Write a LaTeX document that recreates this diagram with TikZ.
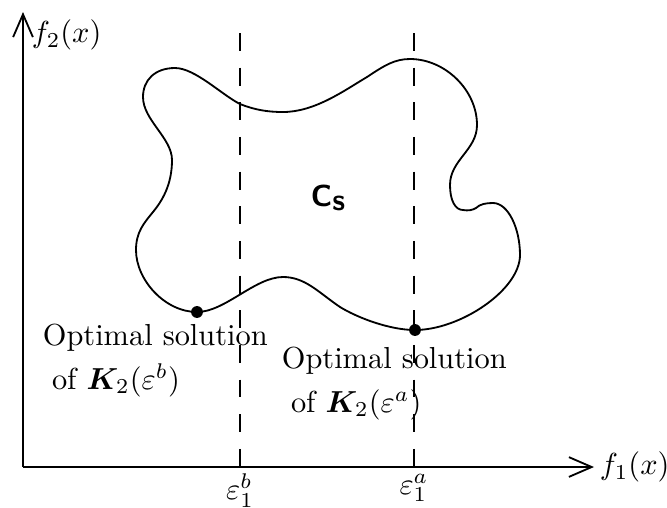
\documentclass[tikz,border=0pt]{standalone}
\usepackage{amsmath,bm}
\usetikzlibrary{arrows.meta}

\begin{document}
\begin{tikzpicture}[x=0.329pt, y=-0.329pt, line width=0.6pt,
  axis/.style={-{Straight Barb[length=7.5pt,width=6.5pt]}},
  level/.style={dash pattern=on 5.9pt off 5.5pt},
  soldot/.style={circle, fill, inner sep=0pt, minimum size=3.9pt},
  lab/.style={inner sep=0pt, align=left}]
  \useasboundingbox (0,0) rectangle (667,507);
  % 坐标轴
  \coordinate (O) at (23,467);
  \coordinate (Y) at (23,12);
  \coordinate (X) at (594,467);
  \draw[axis] (O)--(Y);
  \draw[axis] (O)--(X);
  \node[anchor=west, inner sep=0pt] (f2) at (31,35) {$f_2(x)$};
  \node[anchor=west, inner sep=0pt] (f1) at (599,467) {$f_1(x)$};
  % epsilon 约束线
  \coordinate (ebtop) at (240,33);
  \coordinate (eb) at (240,467);
  \coordinate (eatop) at (414,33);
  \coordinate (ea) at (414,467);
  \draw[level] (ebtop)--(eb);
  \draw[level] (eatop)--(ea);
  \node[anchor=north, inner sep=0pt] (epsb) at (240,473) {$\varepsilon_1^b$};
  \node[anchor=north, inner sep=0pt] (epsa) at (414,473) {$\varepsilon_1^a$};
  % 可行域 Cs (顺时针, 从左上角开始)
  \draw (175,68) .. controls (195,68) and (222,95) .. (240,104)
    .. controls (255,110) and (268,112) .. (283,112)
    .. controls (315,112) and (345,90) .. (367,77)
    .. controls (385,65) and (395,59) .. (410,59)
    .. controls (445,59) and (477,90) .. (477,125)
    .. controls (477,150) and (450,160) .. (450,185)
    .. controls (450,200) and (455,210) .. (463,210)
    .. controls (468,211) and (473,210) .. (476,208)
    .. controls (480,204) and (486,203) .. (493,203)
    .. controls (508,203) and (520,228) .. (520,255)
    .. controls (520,290) and (460,330) .. (415,330)
    .. controls (390,330) and (358,318) .. (340,307)
    .. controls (318,292) and (305,277) .. (283,277)
    .. controls (255,277) and (225,312) .. (197,312)
    .. controls (165,312) and (136,280) .. (136,250)
    .. controls (136,232) and (144,223) .. (153,212)
    .. controls (162,201) and (172,185) .. (172,160)
    .. controls (172,138) and (143,120) .. (143,97)
    .. controls (143,80) and (155,68) .. cycle;
  \node (cs) at (328,198) {\sffamily\bfseries C\raisebox{-1.3pt}{s}};
  % 最优解
  \node[soldot] (solb) at (197,312) {};
  \node[soldot] (sola) at (415,330) {};
  \node[lab, anchor=north west] (labb) at (42,323)
    {Optimal solution\\[2.5pt]\hspace*{3pt}of $\bm{K}_2(\varepsilon^b)$};
  \node[lab, anchor=north west] (laba) at (281,346)
    {Optimal solution\\[2.5pt]\hspace*{3pt}of $\bm{K}_2(\varepsilon^a)$};
\end{tikzpicture}
\end{document}
